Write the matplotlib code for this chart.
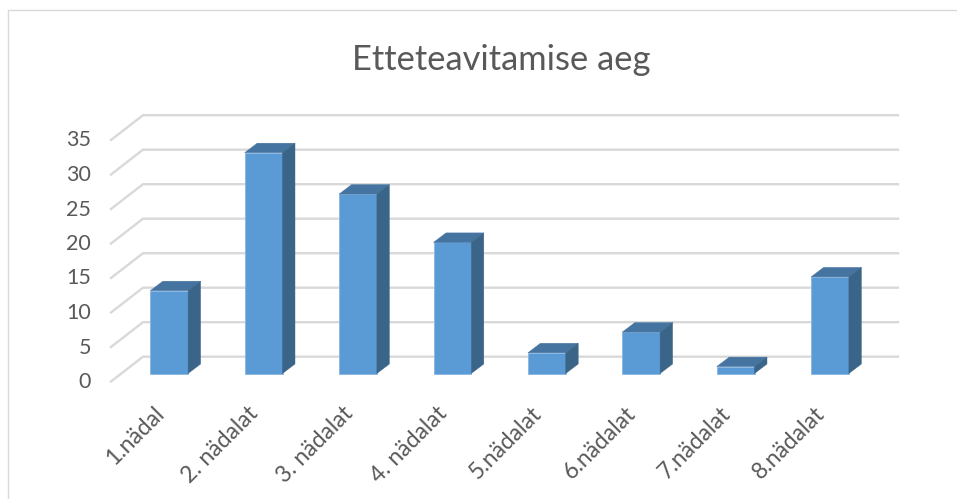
import matplotlib
matplotlib.use("Agg")
import matplotlib.pyplot as plt
from matplotlib.lines import Line2D
from matplotlib.patches import Polygon
from matplotlib.transforms import ScaledTranslation

categories = ["1.nädal", "2. nädalat", "3. nädalat", "4. nädalat",
              "5.nädalat", "6.nädalat", "7.nädalat", "8.nädalat"]
values = [12, 32, 26, 19, 3, 6, 1, 14]
y_ticks = [0, 5, 10, 15, 20, 25, 30, 35]
title = "Etteteavitamise aeg"

W, H = 957, 499
plt.rcParams["font.family"] = ["Lato", "DejaVu Sans"]
TEXT = "#595959"; GRID = "#D9D9D9"
FRONT = "#5B9BD5"; TOP = "#44749F"; SIDE = "#3A6488"; EDGE = "#8DB9E2"

fig = plt.figure(figsize=(W / 100, H / 100), dpi=100, facecolor="white")

# Pixel geometry of the pseudo-3D plot
x0_px, spacing = 169.2, 94.4      # centre of first bar, spacing
y0_px, unit = 373.5, 6.9          # baseline, pixels per value unit
L, R, T, B = 100, 900, 100, 390   # axes box in pixels
ax = fig.add_axes([L / W, 1 - B / H, (R - L) / W, (B - T) / H])
ax.set_xlim((L - x0_px) / spacing, (R - x0_px) / spacing)
ax.set_ylim((y0_px - B) / unit, (y0_px - T) / unit)
for s in ax.spines.values():
    s.set_visible(False)
ax.patch.set_alpha(0)

px_x = lambda px: (px - x0_px) / spacing
off_y = lambda px: (y0_px - px) / unit

# gridlines: side-wall diagonal and back wall
front_x, back_x, end_x = px_x(111), px_x(143), px_x(898)
front_dy, back_dy = off_y(381.5), off_y(356.7)
for v in y_ticks:
    ax.plot([front_x, back_x, end_x], [v + front_dy, v + back_dy, v + back_dy],
            color=GRID, lw=1.7, solid_joinstyle="miter", zorder=1, clip_on=False)

# bars
bar_w = 37.8 / spacing
dx, dy = 12.5 / spacing, 9.5 / unit
xs = list(range(len(values)))
ax.bar(xs, values, width=bar_w, color=FRONT, edgecolor=EDGE, linewidth=0.7, zorder=3)
for x, v in zip(xs, values):
    l, r = x - bar_w / 2, x + bar_w / 2
    ax.add_patch(Polygon([(l, v), (r, v), (r + dx, v + dy), (l + dx, v + dy)],
                         closed=True, facecolor=TOP, edgecolor=TOP, lw=0.3, zorder=3))
    ax.add_patch(Polygon([(r, 0), (r + dx, dy), (r + dx, v + dy), (r, v)],
                         closed=True, facecolor=SIDE, edgecolor=SIDE, lw=0.3, zorder=3))

# ticks and labels
ax.set_yticks(y_ticks)
ax.set_xticks(xs)
ax.set_xticklabels(categories, rotation=45, ha="right", va="top", rotation_mode="anchor")
ax.tick_params(axis="y", length=0, labelsize=15.5, labelcolor=TEXT, pad=6.5)
ax.tick_params(axis="x", length=0, labelsize=16.5, labelcolor=TEXT, pad=9)
y_shift = ScaledTranslation(0, -6.5 / 100, fig.dpi_scale_trans)
for lab in ax.get_yticklabels():
    lab.set_transform(lab.get_transform() + y_shift)
x_shift = ScaledTranslation(-16 / 100, 0, fig.dpi_scale_trans)
for lab in ax.get_xticklabels():
    lab.set_transform(lab.get_transform() + x_shift)

fig.text(501 / W, 1 - 60 / H, title, ha="center", va="center", fontsize=24.8, color=TEXT)

# chart frame
fig.add_artist(Line2D([8 / W, 8 / W, 1], [0, 1 - 10 / H, 1 - 10 / H], color=GRID, lw=1))

fig.savefig("out.png", dpi=100)
